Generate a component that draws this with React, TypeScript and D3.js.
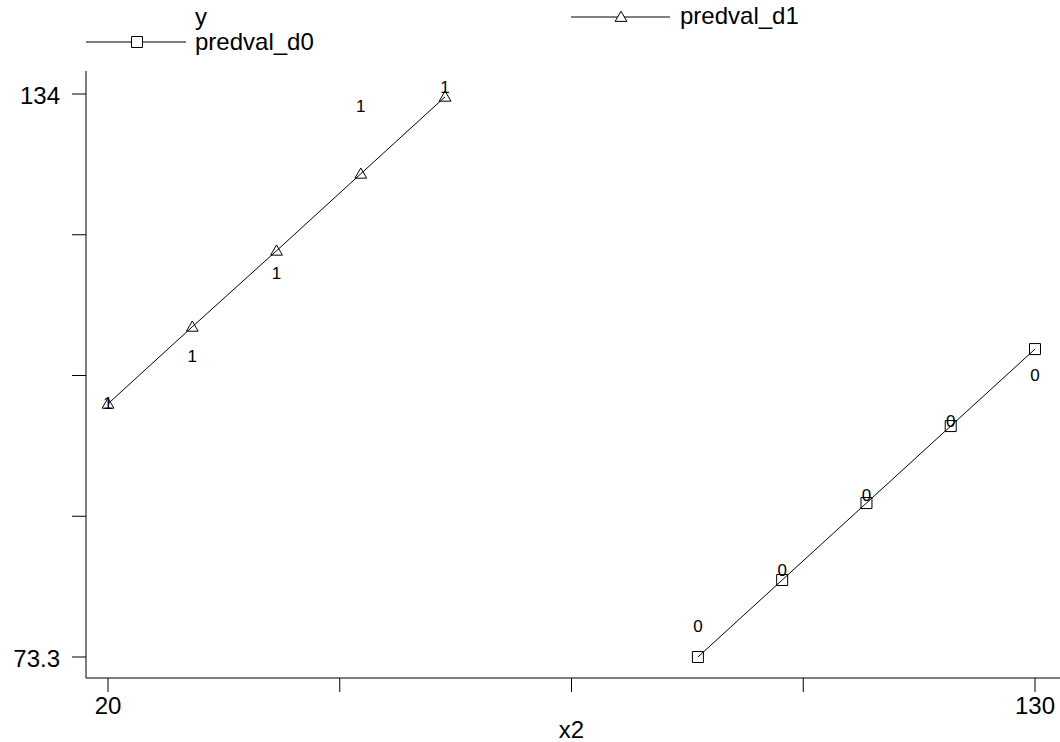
import * as d3 from 'd3';

// x2 values for each group
const xD1 = [20, 30, 40, 50, 60];
const xD0 = [90, 100, 110, 120, 130];
// observed y (shown as marker labels "1"/"0")
const yObsD1 = [99.9, 105.0, 113.9, 132.0, 134.0];
const yObsD0 = [75.9, 81.9, 90.0, 98.0, 102.9];
// predicted values
const predD1 = [100.6, 108.9, 117.1, 125.4, 133.7];
const predD0 = [73.3, 81.6, 89.9, 98.2, 106.5];

const xTicks = [20, 47.5, 75, 102.5, 130];
const xTickLabels = ['20', '', '', '', '130'];
const yTicks = [73.3, 88.475, 103.65, 118.825, 134];
const yTickLabels = ['73.3', '', '', '', '134'];

const W = 1060;
const H = 742;
const FONT = '"Liberation Sans", Arial, Helvetica, sans-serif';

export default function App() {
  const x = d3.scaleLinear().domain([20, 130]).range([108, 1035]);
  const y = d3.scaleLinear().domain([73.3, 134]).range([657, 94]);

  const line = d3.line<[number, number]>().x(d => x(d[0])).y(d => y(d[1]));
  const d1Pts = xD1.map((v, i) => [v, predD1[i]] as [number, number]);
  const d0Pts = xD0.map((v, i) => [v, predD0[i]] as [number, number]);

  const tri = d3.symbol(d3.symbolTriangle, 60)()!;
  const sq = d3.symbol(d3.symbolSquare, 121)()!;

  const axisX = 86;
  const axisY = 678;

  return (
    <svg width={W} height={H} style={{ position: 'absolute', left: 0, top: 0, background: '#fff' }}
      fontFamily={FONT}>
      <rect width={W} height={H} fill="#fff" />

      {/* legend */}
      <g fontSize={24} fill="#000">
        <text x={195} y={16} dominantBaseline="central">y</text>
        <line x1={571} x2={670} y1={17} y2={17} stroke="#000" strokeWidth={1} />
        <path d={tri} transform="translate(621,18)" fill="#fff" stroke="#000" strokeWidth={1} />
        <text x={680} y={15} dominantBaseline="central">predval_d1</text>
        <line x1={86} x2={186} y1={42} y2={42} stroke="#000" strokeWidth={1} />
        <path d={sq} transform="translate(137,42)" fill="#fff" stroke="#000" strokeWidth={1} />
        <text x={195} y={41} dominantBaseline="central">predval_d0</text>
      </g>

      {/* axes */}
      <line x1={axisX} x2={axisX} y1={71} y2={axisY} stroke="#000" strokeWidth={1} />
      <line x1={axisX} x2={W} y1={axisY} y2={axisY} stroke="#000" strokeWidth={1} />
      {yTicks.map((t, i) => (
        <g key={'yt' + i}>
          <line x1={axisX - 14} x2={axisX} y1={y(t)} y2={y(t)} stroke="#000" strokeWidth={1} />
          <text x={60} y={y(t) + 1} textAnchor="end" dominantBaseline="central" fontSize={24}>
            {yTickLabels[i]}
          </text>
        </g>
      ))}
      {xTicks.map((t, i) => (
        <g key={'xt' + i}>
          <line x1={x(t)} x2={x(t)} y1={axisY} y2={axisY + 14} stroke="#000" strokeWidth={1} />
          <text x={x(t)} y={705} textAnchor="middle" dominantBaseline="central" fontSize={24}>
            {xTickLabels[i]}
          </text>
        </g>
      ))}
      <text x={(x(20) + x(130)) / 2} y={729} textAnchor="middle" dominantBaseline="central" fontSize={24}>x2</text>

      {/* predicted lines + markers */}
      <path d={line(d1Pts)!} fill="none" stroke="#000" strokeWidth={1} />
      <path d={line(d0Pts)!} fill="none" stroke="#000" strokeWidth={1} />
      {d1Pts.map((p, i) => (
        <path key={'t' + i} d={tri} transform={`translate(${x(p[0])},${y(p[1]) + 1})`}
          fill="none" stroke="#000" strokeWidth={1} />
      ))}
      {d0Pts.map((p, i) => (
        <path key={'s' + i} d={sq} transform={`translate(${x(p[0])},${y(p[1])})`}
          fill="none" stroke="#000" strokeWidth={1} />
      ))}

      {/* observed y shown as labels */}
      <g fontSize={17} fill="#000" textAnchor="middle">
        {xD1.map((v, i) => (
          <text key={'l1' + i} x={x(v)} y={y(yObsD1[i]) - 1}>1</text>
        ))}
        {xD0.map((v, i) => (
          <text key={'l0' + i} x={x(v)} y={y(yObsD0[i]) - 1}>0</text>
        ))}
      </g>
    </svg>
  );
}
